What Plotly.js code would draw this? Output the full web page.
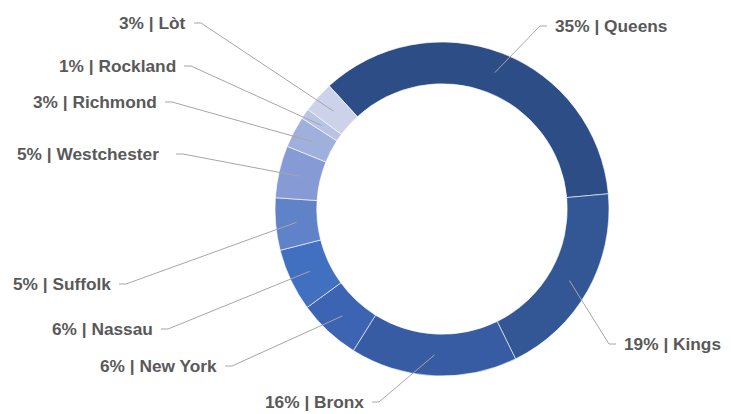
<!DOCTYPE html>
<html>
<head>
<meta charset="utf-8">
<script src="https://cdn.plot.ly/plotly-3.0.1.min.js"></script>
<style>html,body{margin:0;padding:0;background:#fff;}#chart{width:737px;height:414px;}</style>
</head>
<body>
<div id="chart"></div>
<script>
// ---- data ----
const regions = ["Queens", "Kings", "Bronx", "New York", "Nassau", "Suffolk", "Westchester", "Richmond", "Rockland", "Lòt"];
const shares  = [35, 19, 16, 6, 6, 5, 5, 3, 1, 3];
const sliceColors = ["#2c4d86", "#335795", "#375ca4", "#3c64b3", "#4270c0", "#6082c8", "#869bd5", "#a0b0dc", "#b9c3e6", "#ccd2ea"];

// ---- layout / styling (pixel placement of the outside labels) ----
const W = 737, H = 414;
const M = {l: 275, r: 128, t: 42, b: 38};
const HOLE = 0.75;
const ROTATION = -42.5;
// label text edge x, y (px), side of pie
const labelLayout = [
  {x: 553, y: 26,  side: "right"},
  {x: 622, y: 344, side: "right"},
  {x: 366, y: 402, side: "left"},
  {x: 219, y: 366, side: "left"},
  {x: 155, y: 329, side: "left"},
  {x: 113, y: 284, side: "left"},
  {x: 161, y: 154, side: "left", gap: 15},
  {x: 159, y: 102, side: "left"},
  {x: 178, y: 66,  side: "left"},
  {x: 188, y: 23,  side: "left"}
];

const pw = W - M.l - M.r, ph = H - M.t - M.b;
const R = Math.min(pw, ph) / 2;
const cx = M.l + pw / 2, cy = M.t + ph / 2;
const toPX = px => (px - M.l) / pw;
const toPY = py => (H - M.b - py) / ph;

const total = shares.reduce((a, b) => a + b, 0);
let cum = 0;
const shapes = [], annotations = [];
shares.forEach((v, i) => {
  const midAng = (ROTATION + (cum + v / 2) / total * 360) * Math.PI / 180;
  cum += v;
  const rMid = R * (1 + HOLE) / 2;
  const tx = cx + rMid * Math.sin(midAng), ty = cy - rMid * Math.cos(midAng);
  const L = labelLayout[i];
  const dir = L.side === "right" ? -1 : 1;
  const gap = L.gap || 6;
  const endX = L.x + dir * gap;
  const elbowX = endX + dir * 7;
  shapes.push({
    type: "path", xref: "paper", yref: "paper",
    path: `M ${toPX(tx)},${toPY(ty)} L ${toPX(elbowX)},${toPY(L.y)} L ${toPX(endX)},${toPY(L.y)}`,
    line: {color: "#a6a6a6", width: 1}
  });
  annotations.push({
    xref: "paper", yref: "paper", x: toPX(L.x), y: toPY(L.y),
    xanchor: L.side === "right" ? "left" : "right", yanchor: "middle",
    text: `<b>${v}% | ${regions[i]}</b>`, showarrow: false,
    font: {family: "Liberation Sans, Arial, sans-serif", size: 17.3, color: "#595959"}
  });
});

const trace = {
  type: "pie", labels: regions, values: shares, hole: HOLE,
  sort: false, direction: "clockwise", rotation: ROTATION,
  marker: {colors: sliceColors, line: {color: "#ffffff", width: 0.6}},
  textinfo: "none", hoverinfo: "label+percent", showlegend: false
};

Plotly.newPlot("chart", [trace], {
  width: W, height: H, margin: M,
  paper_bgcolor: "#ffffff", plot_bgcolor: "#ffffff",
  showlegend: false, shapes, annotations
}, {displayModeBar: false, staticPlot: true});
</script>
</body>
</html>
